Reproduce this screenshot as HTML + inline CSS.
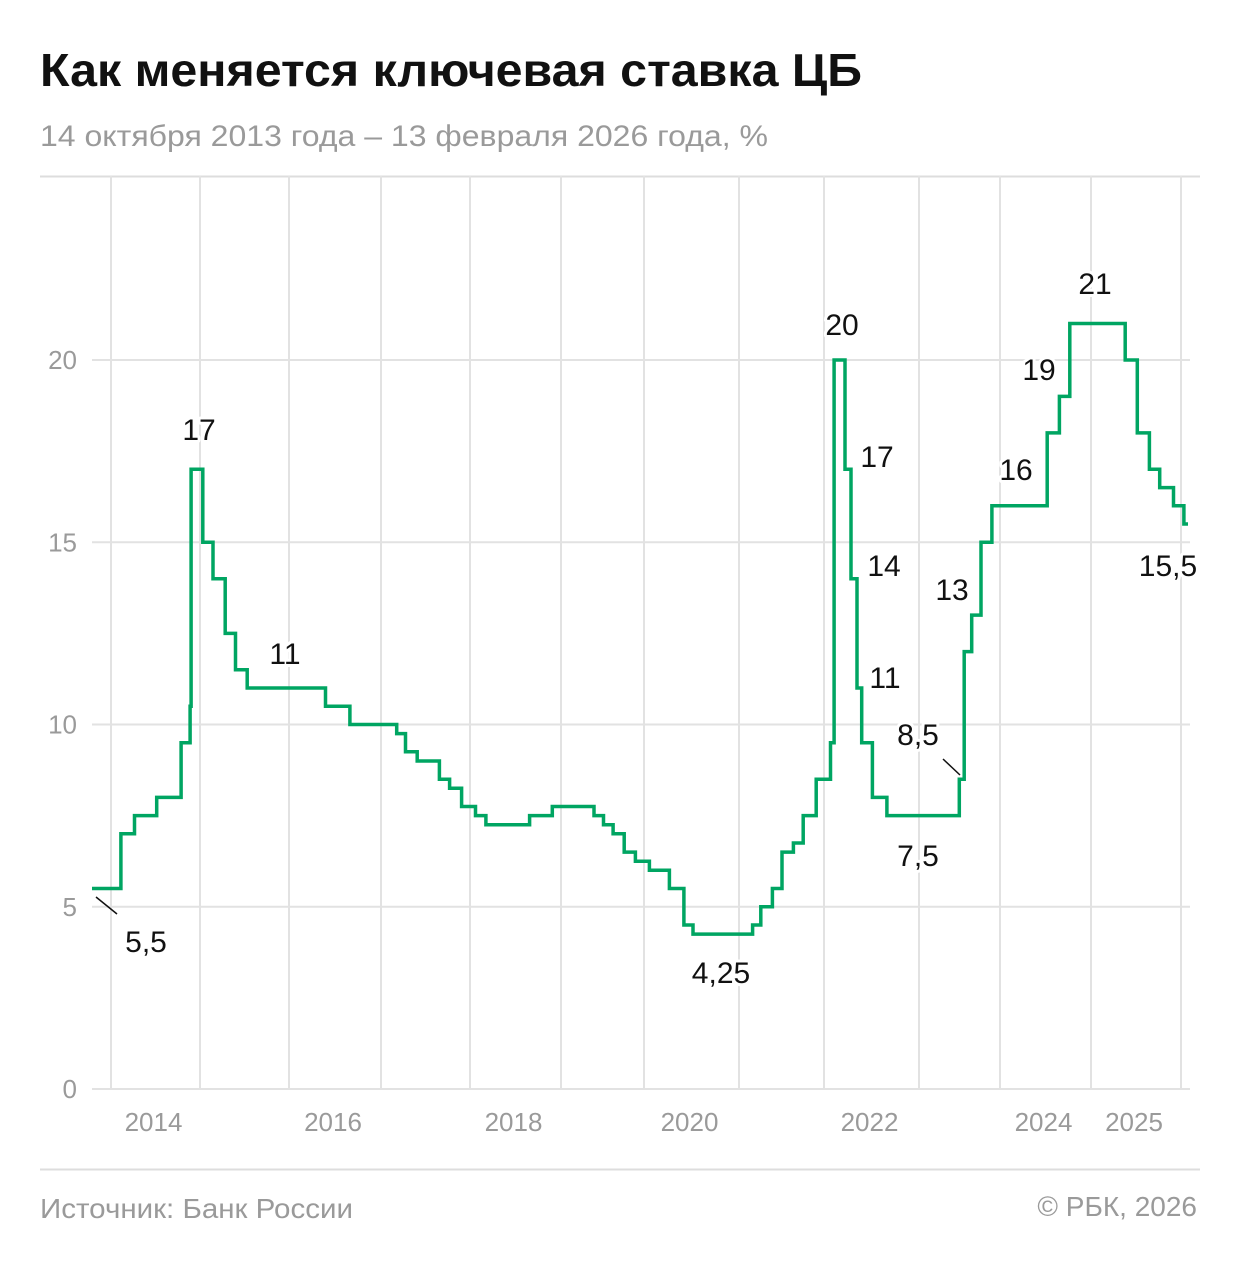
<!DOCTYPE html>
<html><head><meta charset="utf-8">
<style>
html,body{margin:0;padding:0;background:#fff;}
body{width:1240px;height:1266px;overflow:hidden;font-family:"Liberation Sans","Noto Sans CJK SC",sans-serif;}
svg text{font-family:"Liberation Sans","Noto Sans CJK SC",sans-serif;}
</style></head>
<body>
<svg id="chart" width="1240" height="1266" viewBox="0 0 1240 1266">
  <text x="40" y="86" font-size="46" font-weight="bold" fill="#111" textLength="822" lengthAdjust="spacingAndGlyphs">Как меняется ключевая ставка ЦБ</text>
  <text x="40" y="146" font-size="30" fill="#9a9a9a" textLength="728" lengthAdjust="spacingAndGlyphs">14 октября 2013 года – 13 февраля 2026 года, %</text>
  <line x1="40" y1="176.5" x2="1200" y2="176.5" stroke="#ddd" stroke-width="2"/>
  <line x1="40" y1="1169.5" x2="1200" y2="1169.5" stroke="#ddd" stroke-width="2"/>
  <g id="grid"></g>
  <g id="series"></g>
  <g id="labels"></g>
  <text x="40" y="1218" font-size="28" fill="#9a9a9a" textLength="313" lengthAdjust="spacingAndGlyphs">Источник: Банк России</text>
  <text x="1197" y="1216" font-size="28" fill="#9a9a9a" text-anchor="end">© РБК, 2026</text>
</svg>
<script>
const changeDates = ["2013-10-14","2014-03-03","2014-04-28","2014-07-28","2014-11-05","2014-12-12","2014-12-16","2015-02-02","2015-03-16","2015-05-05","2015-06-16","2015-08-03","2016-06-14","2016-09-19","2017-03-27","2017-05-02","2017-06-19","2017-09-18","2017-10-30","2017-12-18","2018-02-12","2018-03-26","2018-09-17","2018-12-17","2019-06-17","2019-07-29","2019-09-09","2019-10-28","2019-12-16","2020-02-10","2020-04-27","2020-06-22","2020-07-27","2021-03-22","2021-04-26","2021-06-15","2021-07-26","2021-09-13","2021-10-25","2021-12-20","2022-02-14","2022-02-28","2022-04-11","2022-05-04","2022-05-27","2022-06-14","2022-07-25","2022-09-19","2023-07-24","2023-08-15","2023-09-18","2023-10-30","2023-12-18","2024-07-29","2024-09-16","2024-10-28","2025-06-09","2025-07-28","2025-09-15","2025-10-27","2025-12-22","2026-02-02"];
const rates = [5.5,7,7.5,8,9.5,10.5,17,15,14,12.5,11.5,11,10.5,10,9.75,9.25,9,8.5,8.25,7.75,7.5,7.25,7.5,7.75,7.5,7.25,7,6.5,6.25,6,5.5,4.5,4.25,4.5,5,5.5,6.5,6.75,7.5,8.5,9.5,20,17,14,11,9.5,8,7.5,8.5,12,13,15,16,18,19,21,20,18,17,16.5,16,15.5];
const endDate = "2026-02-13";
const yTicks = [0,5,10,15,20];
const yTickLabels = ["0","5","10","15","20"];
const gridYears = [2014,2015,2016,2017,2018,2019,2020,2021,2022,2023,2024,2025,2026];
const yearLabels = ["2014","2016","2018","2020","2022","2024","2025"];
const yearLabelSpans = [[2014,2015],[2016,2017],[2018,2019],[2020,2021],[2022,2023],[2024,2025],[2025,2026]];
const annotTexts = ["17","11","5,5","4,25","20","17","14","11","8,5","7,5","13","16","19","21","15,5"];
const annotPos = [[199,430],[285,654],[146,942],[721,973],[842,325],[877,457],[884,566],[885,678],[918,735],[918,856],[952,590],[1016,470],[1039,370],[1095,284],[1168,566]];

const NS="http://www.w3.org/2000/svg";
const yearPx=[111,200,289,381,470,561,644,739,824,919,1000,1091,1181];
function yearFrac(s){const d=new Date(s+"T00:00:00Z");const y=d.getUTCFullYear();const a=Date.UTC(y,0,1),b=Date.UTC(y+1,0,1);return y+(d-a)/(b-a);}
function X(t){
  if(t<2014){return 111-(2014-t)*89;}
  const i=Math.min(Math.floor(t)-2014,yearPx.length-2);
  return yearPx[i]+(t-(2014+i))*(yearPx[i+1]-yearPx[i]);
}
function XD(t){return Math.max(92,X(t)-5);}
function Y(v){return 1089-v*36.45;}
function mk(tag,attrs,parent){const e=document.createElementNS(NS,tag);for(const k in attrs)e.setAttribute(k,attrs[k]);parent.appendChild(e);return e;}

const grid=document.getElementById('grid');
yTicks.forEach((v,i)=>{
  const l=mk('line',{x1:92,x2:1190,y1:Y(v),y2:Y(v),stroke:'#e2e2e2','stroke-width':2},grid);
  
  
  const t=mk('text',{x:77,y:Y(v)+9,'font-size':26,fill:'#9a9a9a','text-anchor':'end'},grid);
  t.textContent=yTickLabels[i];
  
  
});
gridYears.forEach(yr=>{
  const l=mk('line',{x1:X(yr),x2:X(yr),y1:176,y2:1089,stroke:'#e2e2e2','stroke-width':2},grid);
  
  
});
yearLabels.forEach((s,i)=>{
  const sp=yearLabelSpans[i];
  const t=mk('text',{x:(X(sp[0])+X(sp[1]))/2-2,y:1131,'font-size':26,fill:'#9a9a9a','text-anchor':'middle'},grid);
  t.textContent=s;
  
  
});

let d='';
for(let i=0;i<rates.length;i++){
  const x0=i===0?92:XD(yearFrac(changeDates[i]));
  const x1=i+1<rates.length?XD(yearFrac(changeDates[i+1])):1188;
  const y=Y(rates[i]);
  d+=(i===0?'M':'L')+x0.toFixed(1)+','+y.toFixed(1)+'L'+x1.toFixed(1)+','+y.toFixed(1);
}
const p=mk('path',{d:d,fill:'none',stroke:'#00a562','stroke-width':3.5,'stroke-linejoin':'miter'},document.getElementById('series'));



const lab=document.getElementById('labels');
const l1=mk('line',{x1:96,y1:897,x2:117,y2:914,stroke:'#111','stroke-width':1.5},lab);


const l2=mk('line',{x1:943,y1:759,x2:960,y2:775,stroke:'#111','stroke-width':1.5},lab);


annotTexts.forEach((s,i)=>{
  const t=mk('text',{x:annotPos[i][0],y:annotPos[i][1]+10,'font-size':30,fill:'#111','text-anchor':'middle',stroke:'#fff','stroke-width':6,'paint-order':'stroke','stroke-linejoin':'round'},lab);
  t.textContent=s;
  
  
});
</script>
</body></html>
